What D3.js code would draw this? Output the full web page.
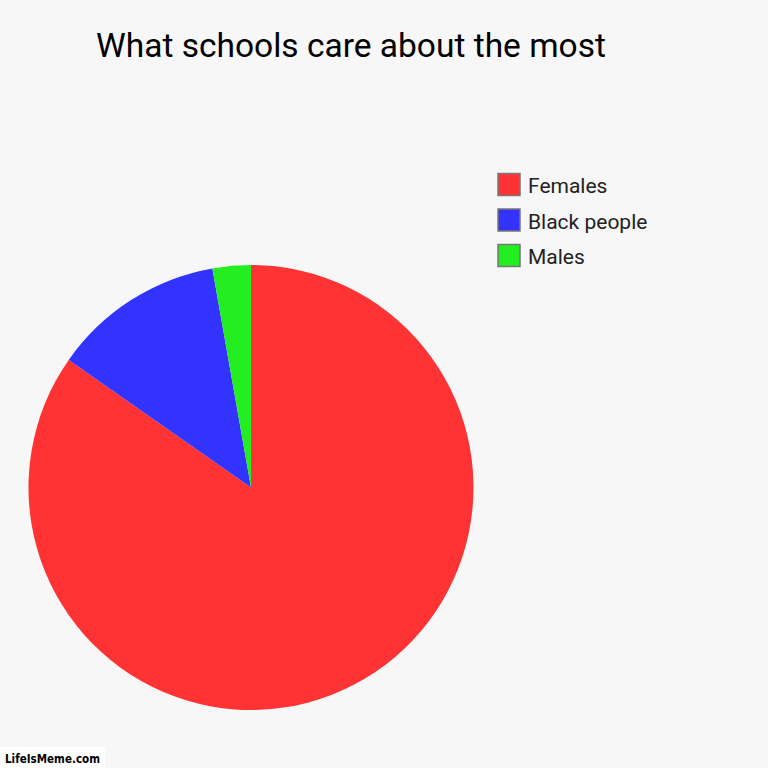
<!DOCTYPE html>
<html>
<head>
<meta charset="utf-8">
<script src="https://cdn.jsdelivr.net/npm/d3@7/dist/d3.min.js"></script>
<style>
  html, body { margin: 0; padding: 0; background: #f7f7f7; }
</style>
</head>
<body>
<div class="canvas"></div>
<script>
// chart data
const categories = ['Females', 'Black people', 'Males'];
const values = [61, 9, 2];
const colors = ['#ff3333', '#3333ff', '#22ee22'];
const title = 'What schools care about the most';

const dims = { width: 768, height: 768, radius: 222.5 };
const cent = { x: 251, y: 487.5 };

const svg = d3.select('.canvas').append('svg')
    .attr('width', dims.width)
    .attr('height', dims.height)
    .style('display', 'block');

svg.append('rect')
    .attr('width', dims.width)
    .attr('height', dims.height)
    .attr('fill', '#f7f7f7');

svg.append('text')
    .attr('x', 351)
    .attr('y', 57)
    .attr('text-anchor', 'middle')
    .style('font-family', 'Roboto')
    .style('font-size', '33.5px')
    .attr('fill', '#000')
    .text(title);

const color = d3.scaleOrdinal().domain(categories).range(colors);

const pie = d3.pie().sort(null);
const arc = d3.arc().innerRadius(0).outerRadius(dims.radius);

const pieGroup = svg.append('g')
    .attr('transform', `translate(${cent.x},${cent.y})`);

pieGroup.selectAll('path')
    .data(pie(values))
    .enter()
    .append('path')
    .attr('d', arc)
    .attr('fill', (d, i) => color(categories[i]));

// legend
const legend = svg.append('g')
    .attr('transform', 'translate(498,173.5)');

const rows = legend.selectAll('g')
    .data(categories)
    .enter()
    .append('g')
    .attr('transform', (d, i) => `translate(0,${i * 35.5})`);

rows.append('rect')
    .attr('width', 22)
    .attr('height', 22)
    .attr('fill', d => color(d))
    .attr('stroke', '#777')
    .attr('stroke-width', 1.5);

rows.append('text')
    .attr('x', 30)
    .attr('y', 19.5)
    .style('font-family', 'Roboto')
    .style('font-size', '21px')
    .attr('fill', '#222')
    .text(d => d);

// watermark
svg.append('rect')
    .attr('x', -4)
    .attr('y', 747)
    .attr('width', 109)
    .attr('height', 26)
    .attr('rx', 3)
    .attr('fill', '#fff');

svg.append('text')
    .attr('x', 5)
    .attr('y', 763)
    .attr('textLength', 95)
    .attr('lengthAdjust', 'spacingAndGlyphs')
    .style('font-family', 'DejaVu Sans')
    .style('font-size', '13px')
    .style('font-weight', 'bold')
    .attr('fill', '#000')
    .text('LifeIsMeme.com');
</script>
</body>
</html>
